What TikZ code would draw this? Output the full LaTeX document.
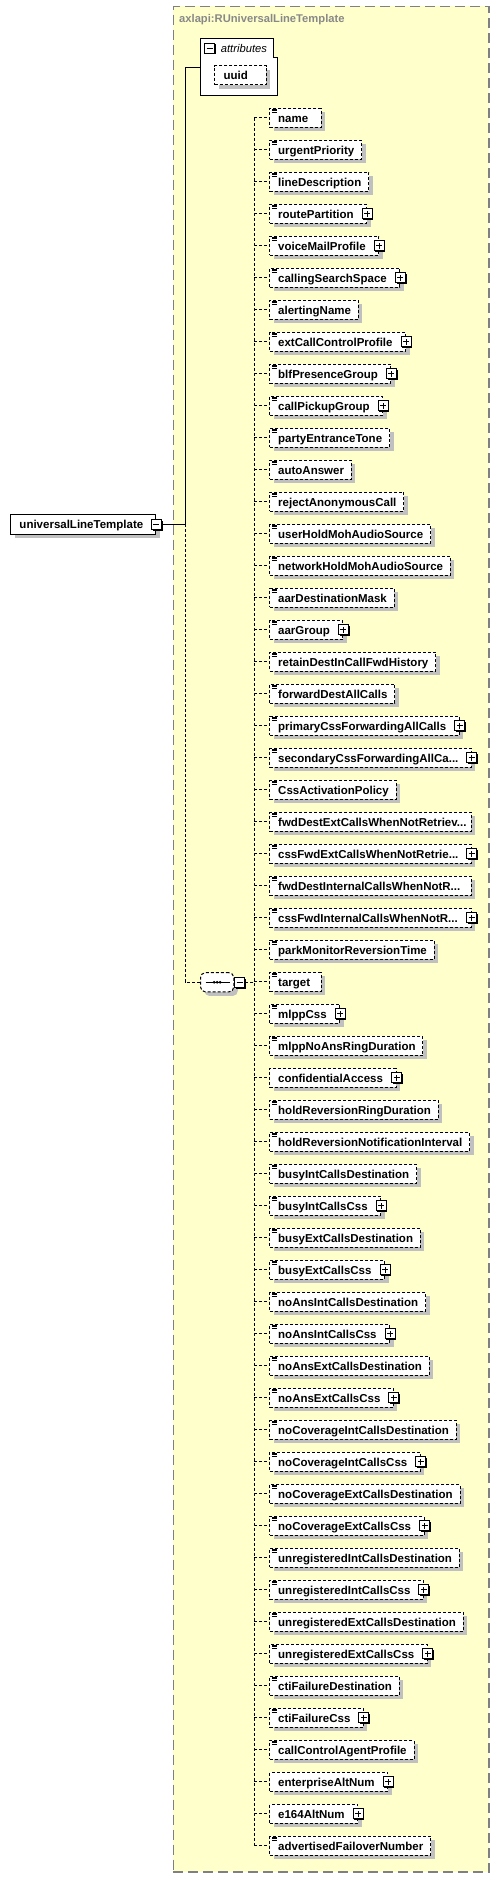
\documentclass[tikz,border=0pt]{standalone}
\usepackage{fontspec}
\setmainfont{Liberation Sans}
\usetikzlibrary{shadows}
\definecolor{ybg}{HTML}{FFFFCC}
\definecolor{shade}{HTML}{C0C0C0}
\definecolor{tgray}{HTML}{888888}
\definecolor{bgray}{HTML}{808080}
\newcommand\elfont{\fontsize{11.5pt}{13pt}\selectfont\bfseries}
\newcommand\titlefont{\fontsize{11.2pt}{13pt}\selectfont\bfseries}
\newcommand\attrfont{\fontsize{11.2pt}{13pt}\selectfont\itshape}
\newcommand\truncdots{...}
\tikzset{
  conn/.style={line width=1pt, solid},
  dconn/.style={line width=1pt, dash pattern=on 3pt off 2pt},
  typebox/.style={draw=bgray, fill=ybg, line width=1.5pt, dash pattern=on 10pt off 5pt,
    minimum width=315.8pt, minimum height=1865.3pt, anchor=north west, inner sep=0pt},
  el/.style={draw, line width=1pt, dash pattern=on 3pt off 2pt, fill=white, inner sep=0pt,
    minimum height=19pt, text height=8.3pt, text depth=0pt, anchor=west, font=\elfont,
    drop shadow={shadow xshift=4pt, shadow yshift=-4pt, opacity=1, fill=shade}},
  elx/.style 2 args={el, execute at begin node={\hspace*{#1}}, execute at end node={\hspace*{#2}}},
  kp/.style={elx={8.4pt}{7.4pt}},
  kx/.style={elx={8.4pt}{13pt}},
  ks1/.style={elx={8.4pt}{12.8pt}},
  ks2/.style={elx={8.4pt}{10.9pt}},
  kt/.style={el, text width=201.4pt, align=left, execute at begin node={\hspace*{8.4pt}}},
  rootbox/.style={draw, line width=1pt, solid, fill=white, inner sep=0pt, minimum height=19.3pt,
    text height=8.3pt, text depth=0pt, font=\elfont, anchor=west,
    execute at begin node={\hspace*{8.7pt}}, execute at end node={\hspace*{12.7pt}},
    drop shadow={shadow xshift=4pt, shadow yshift=-4pt, opacity=1, fill=shade}},
  pmbase/.style={draw, solid, line width=1pt, fill=white, minimum size=10pt, inner sep=0pt,
    drop shadow={shadow xshift=1.2pt, shadow yshift=-1.2pt, opacity=1, fill=black}},
  plusbox/.style={pmbase, path picture={
      \draw[solid, line width=1pt] ([xshift=-3pt]path picture bounding box.center) -- ([xshift=3pt]path picture bounding box.center);
      \draw[solid, line width=1pt] ([yshift=-3pt]path picture bounding box.center) -- ([yshift=3pt]path picture bounding box.center);}},
  minusbox/.style={pmbase, path picture={
      \draw[solid, line width=1pt] ([xshift=-3pt]path picture bounding box.center) -- ([xshift=3pt]path picture bounding box.center);}},
  seqbox/.style={draw, line width=1pt, dash pattern=on 3pt off 2pt, fill=white, rounded corners=5pt,
    minimum width=33.3pt, minimum height=19.3pt, inner sep=0pt, anchor=west,
    drop shadow={shadow xshift=4pt, shadow yshift=-4pt, opacity=1, fill=shade},
    path picture={
      \draw[solid, draw=black, line width=1pt] ([xshift=-11.5pt]path picture bounding box.center) -- ([xshift=13pt]path picture bounding box.center);
      \foreach \dx in {-3,0,3} \fill[black] ([xshift=\dx pt]path picture bounding box.center) circle (1.5pt);}},
  iconline/.style={solid, line width=0.8pt},
}
\begin{document}
\begin{tikzpicture}[x=1pt,y=-1pt]
\useasboundingbox (0,0) rectangle (499,1877);
\node[typebox] (typebox) at (172.5,5.7) {};
\node[anchor=base west, font=\titlefont, text=tgray, inner sep=0pt] (title) at (179,22.3) {axlapi:RUniversalLineTemplate};
% attributes group
\node[minimum width=77.3pt, minimum height=57pt, inner sep=0pt, anchor=north west] (attr) at (200,38.3) {};
\draw[fill=white, line width=1pt] (attr.north west) -| ([xshift=-4pt,yshift=-18.7pt]attr.north east) -| (attr.south east) -| (attr.north west) -- cycle;
\node[minusbox] (attrm) at (209.5,48) {};
\node[anchor=base west, font=\attrfont, inner sep=0pt] (attrlbl) at (220.7,52.5) {attributes};
\node[elx={9pt}{18.7pt}] (uuid) at (214,75) {uuid};
% root
\node[rootbox] (root) at (10.3,524.4) {universalLineTemplate};
\node[minusbox] (rootm) at (root.east) {};
% sequence
\node[seqbox] (seq) at (200,982.3) {};
\node[minusbox] (seqm) at (239.7,982.8) {};
\coordinate (cm) at (185.3,0);
\coordinate (cv) at (254.3,0);
% children
\foreach \txt/\kind/\hasplus/\hasicon [count=\i] in {
name/s1/0/1,
urgentPriority/p/0/1,
lineDescription/p/0/1,
routePartition/x/1/1,
voiceMailProfile/x/1/1,
callingSearchSpace/x/1/1,
alertingName/p/0/1,
extCallControlProfile/x/1/1,
blfPresenceGroup/x/1/1,
callPickupGroup/x/1/1,
partyEntranceTone/p/0/1,
autoAnswer/p/0/1,
rejectAnonymousCall/p/0/1,
userHoldMohAudioSource/p/0/1,
networkHoldMohAudioSource/p/0/1,
aarDestinationMask/p/0/1,
aarGroup/x/1/1,
retainDestInCallFwdHistory/p/0/1,
forwardDestAllCalls/p/0/1,
primaryCssForwardingAllCalls/x/1/1,
secondaryCssForwardingAllCa\truncdots/t/1/1,
CssActivationPolicy/p/0/1,
fwdDestExtCallsWhenNotRetriev\truncdots/t/0/1,
cssFwdExtCallsWhenNotRetrie\truncdots/t/1/1,
fwdDestInternalCallsWhenNotR\truncdots/t/0/1,
cssFwdInternalCallsWhenNotR\truncdots/t/1/1,
parkMonitorReversionTime/p/0/1,
target/s2/0/1,
mlppCss/x/1/1,
mlppNoAnsRingDuration/p/0/1,
confidentialAccess/x/1/0,
holdReversionRingDuration/p/0/1,
holdReversionNotificationInterval/p/0/1,
busyIntCallsDestination/p/0/1,
busyIntCallsCss/x/1/1,
busyExtCallsDestination/p/0/1,
busyExtCallsCss/x/1/1,
noAnsIntCallsDestination/p/0/1,
noAnsIntCallsCss/x/1/1,
noAnsExtCallsDestination/p/0/1,
noAnsExtCallsCss/x/1/1,
noCoverageIntCallsDestination/p/0/1,
noCoverageIntCallsCss/x/1/1,
noCoverageExtCallsDestination/p/0/1,
noCoverageExtCallsCss/x/1/1,
unregisteredIntCallsDestination/p/0/1,
unregisteredIntCallsCss/x/1/1,
unregisteredExtCallsDestination/p/0/1,
unregisteredExtCallsCss/x/1/1,
ctiFailureDestination/p/0/1,
ctiFailureCss/x/1/1,
callControlAgentProfile/p/0/1,
enterpriseAltNum/x/1/0,
e164AltNum/x/1/0,
advertisedFailoverNumber/p/0/1}
{
  \pgfmathsetmacro\yy{117.9+32*(\i-1)}
  \node[k\kind] (c\i) at (269.3,\yy) {\txt};
  \ifnum\hasplus=1 \node[plusbox] (cp\i) at (c\i.east) {};\fi
  \ifnum\hasicon=1
    \foreach \d in {1.2,2.9,4.6} \draw[iconline] ([xshift=2.5pt,yshift=-\d pt]c\i.north west) -- ++(5pt,0);
  \fi
  \draw[dconn] (cv |- c\i.west) -- (c\i.west);
}
% connectors
\draw[conn] (rootm.east) -- (cm |- rootm.east);
\draw[conn] (cm |- rootm.east) -- (cm |- attr.west) -- (attr.west);
\draw[dconn] (cm |- rootm.east) -- (cm |- seq.west) -- (seq.west);
\draw[dconn] (seqm.east) -- (cv |- seqm.east);
\draw[dconn] (cv |- c1.west) -- (cv |- c55.west);
\end{tikzpicture}
\end{document}
